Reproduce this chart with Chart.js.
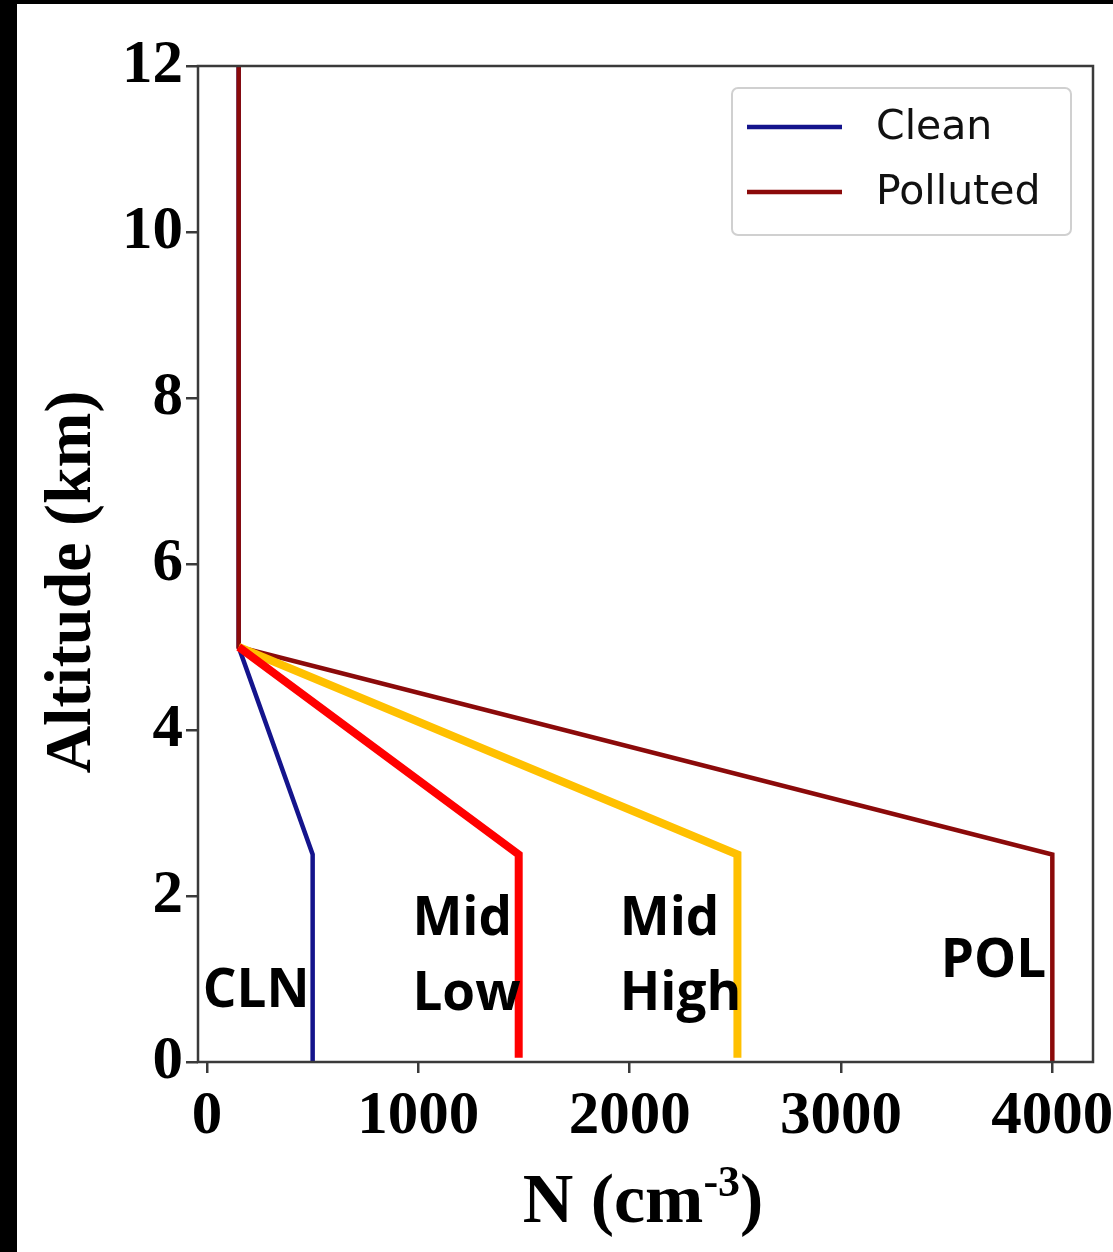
<!DOCTYPE html>
<html lang="en">
<head>
    <meta charset="UTF-8">
    <title>Aerosol number concentration profiles</title>
    <script src="https://cdn.jsdelivr.net/npm/chart.js"></script>
    <style>
        html, body {
            margin: 0;
            padding: 0;
            background-color: white;
        }
        #wrap {
            width: 1113px;
            height: 1252px;
        }
    </style>
</head>
<body>
<div id="wrap">
    <canvas id="myChart" width="1113" height="1252"></canvas>
</div>

<script>
    // profile values (altitude in km, N in cm^-3)
    const altitudes = [0, 2.5, 5, 12];
    const cleanN = [500, 500, 150, 150];
    const pollutedN = [4000, 4000, 150, 150];

    // hand-drawn intermediate cases
    const midAltitudes = [0.05, 2.5, 5];
    const midLowN = [1475, 1475, 150];
    const midHighN = [2510, 2510, 150];

    const xTicks = [0, 1000, 2000, 3000, 4000];
    const yTicks = [0, 2, 4, 6, 8, 10, 12];

    // annotation labels: text lines, left x (data units), baseline y of each line (km)
    const notes = [
        { lines: ['CLN'], x: -20, y: [0.66] },
        { lines: ['Mid', 'Low'], x: 972, y: [1.53, 0.63] },
        { lines: ['Mid', 'High'], x: 1953, y: [1.53, 0.63] },
        { lines: ['POL'], x: 3472, y: [1.02] }
    ];

    function toPoints(xs, ys) {
        return xs.map((v, i) => ({ x: v, y: ys[i] }));
    }

    const axisColor = '#3a3a3a';

    // spines on all four sides, black frame of the screenshot
    const framePlugin = {
        id: 'frame',
        beforeDraw(chart) {
            const ctx = chart.ctx;
            ctx.save();
            ctx.fillStyle = 'white';
            ctx.fillRect(0, 0, chart.width, chart.height);
            ctx.restore();
        },
        afterDatasetsDraw(chart) {
            const ctx = chart.ctx;
            const a = chart.chartArea;
            ctx.save();
            ctx.strokeStyle = axisColor;
            ctx.lineWidth = 2.5;
            ctx.strokeRect(a.left, a.top, a.right - a.left, a.bottom - a.top);
            ctx.restore();
        },
        afterDraw(chart) {
            const ctx = chart.ctx;
            ctx.save();
            ctx.fillStyle = 'black';
            ctx.fillRect(0, 0, chart.width, 4);
            ctx.fillRect(0, 0, 17, chart.height);
            ctx.restore();
        }
    };

    // axis titles, legend box and the CLN / Mid / POL notes
    const textPlugin = {
        id: 'texts',
        afterDraw(chart) {
            const ctx = chart.ctx;
            const xs = chart.scales.x;
            const ys = chart.scales.y;
            ctx.save();

            // y title
            ctx.fillStyle = 'black';
            ctx.font = 'bold 66px "Liberation Serif"';
            ctx.textAlign = 'center';
            ctx.textBaseline = 'middle';
            ctx.translate(73, 582);
            ctx.rotate(-Math.PI / 2);
            ctx.fillText('Altitude (km)', 0, 0);
            ctx.setTransform(1, 0, 0, 1, 0, 0);

            // x title with superscript
            const main = 'N (cm';
            const sup = '-3';
            const close = ')';
            ctx.textAlign = 'left';
            ctx.textBaseline = 'alphabetic';
            ctx.font = 'bold 70px "Liberation Serif"';
            const w1 = ctx.measureText(main).width;
            const w3 = ctx.measureText(close).width;
            ctx.font = 'bold 44px "Liberation Serif"';
            const w2 = ctx.measureText(sup).width;
            const tx = 643 - (w1 + w2 + w3) / 2;
            const base = 1222;
            ctx.font = 'bold 70px "Liberation Serif"';
            ctx.fillText(main, tx, base);
            ctx.font = 'bold 44px "Liberation Serif"';
            ctx.fillText(sup, tx + w1, base - 26);
            ctx.font = 'bold 70px "Liberation Serif"';
            ctx.fillText(close, tx + w1 + w2, base);

            // notes
            ctx.font = 'bold 53px "Open Sans"';
            notes.forEach(n => {
                n.lines.forEach((t, i) => {
                    ctx.fillText(t, xs.getPixelForValue(n.x), ys.getPixelForValue(n.y[i]));
                });
            });

            // legend
            const legendItems = chart.data.datasets.filter(d => d.inLegend);
            const bx = 732, by = 88, bw = 339, bh = 147;
            ctx.beginPath();
            ctx.roundRect(bx, by, bw, bh, 6);
            ctx.fillStyle = 'rgba(255,255,255,0.85)';
            ctx.fill();
            ctx.strokeStyle = '#d0d0d0';
            ctx.lineWidth = 2;
            ctx.stroke();
            ctx.font = '41px "DejaVu Sans"';
            ctx.textBaseline = 'middle';
            legendItems.forEach((d, i) => {
                const ly = 127 + i * 65;
                ctx.beginPath();
                ctx.moveTo(747, ly);
                ctx.lineTo(842, ly);
                ctx.strokeStyle = d.borderColor;
                ctx.lineWidth = 4.5;
                ctx.stroke();
                ctx.fillStyle = '#111';
                ctx.fillText(d.label, 876, ly + 1);
            });
            ctx.restore();
        }
    };

    const ctx = document.getElementById('myChart').getContext('2d');
    const myChart = new Chart(ctx, {
        type: 'line',
        data: {
            datasets: [{
                label: 'Clean',
                data: toPoints(cleanN, altitudes),
                borderColor: '#14148c',
                borderWidth: 4.5,
                inLegend: true,
                order: 4
            }, {
                label: 'Polluted',
                data: toPoints(pollutedN, altitudes),
                borderColor: '#8b0a0a',
                borderWidth: 4.5,
                inLegend: true,
                order: 3
            }, {
                label: 'Mid High',
                data: toPoints(midHighN, midAltitudes),
                borderColor: '#ffc000',
                borderWidth: 8,
                order: 2
            }, {
                label: 'Mid Low',
                data: toPoints(midLowN, midAltitudes),
                borderColor: '#ff0000',
                borderWidth: 8,
                order: 1
            }]
        },
        options: {
            responsive: false,
            animation: false,
            elements: {
                point: { radius: 0 },
                line: { tension: 0, fill: false, borderJoinStyle: 'miter' }
            },
            layout: {
                padding: { left: 0, top: 66, right: 20, bottom: 0 }
            },
            scales: {
                x: {
                    type: 'linear',
                    min: -42.5,
                    max: 4192.5,
                    afterBuildTicks: (scale) => {
                        scale.ticks = xTicks.map(v => ({ value: v }));
                    },
                    afterFit: (scale) => {
                        scale.height = 190;
                        scale.paddingLeft = 0;
                        scale.paddingRight = 0;
                    },
                    grid: {
                        drawOnChartArea: false,
                        drawTicks: true,
                        tickLength: 11,
                        color: axisColor,
                        lineWidth: 2.5
                    },
                    border: { display: false },
                    ticks: {
                        color: 'black',
                        padding: 8,
                        maxRotation: 0,
                        callback: (v) => String(v),
                        font: { family: '"Liberation Serif"', weight: 'bold', size: 61 }
                    }
                },
                y: {
                    type: 'linear',
                    min: 0,
                    max: 12,
                    afterBuildTicks: (scale) => {
                        scale.ticks = yTicks.map(v => ({ value: v }));
                    },
                    afterFit: (scale) => {
                        scale.width = 198;
                        scale.paddingTop = 0;
                        scale.paddingBottom = 0;
                    },
                    grid: {
                        drawOnChartArea: false,
                        drawTicks: true,
                        tickLength: 12,
                        color: axisColor,
                        lineWidth: 2.5
                    },
                    border: { display: false },
                    ticks: {
                        color: 'black',
                        padding: 3,
                        callback: (v) => String(v),
                        font: { family: '"Liberation Serif"', weight: 'bold', size: 61 }
                    }
                }
            },
            plugins: {
                legend: { display: false },
                tooltip: { enabled: false },
                title: { display: false }
            }
        },
        plugins: [framePlugin, textPlugin]
    });
</script>
</body>
</html>
